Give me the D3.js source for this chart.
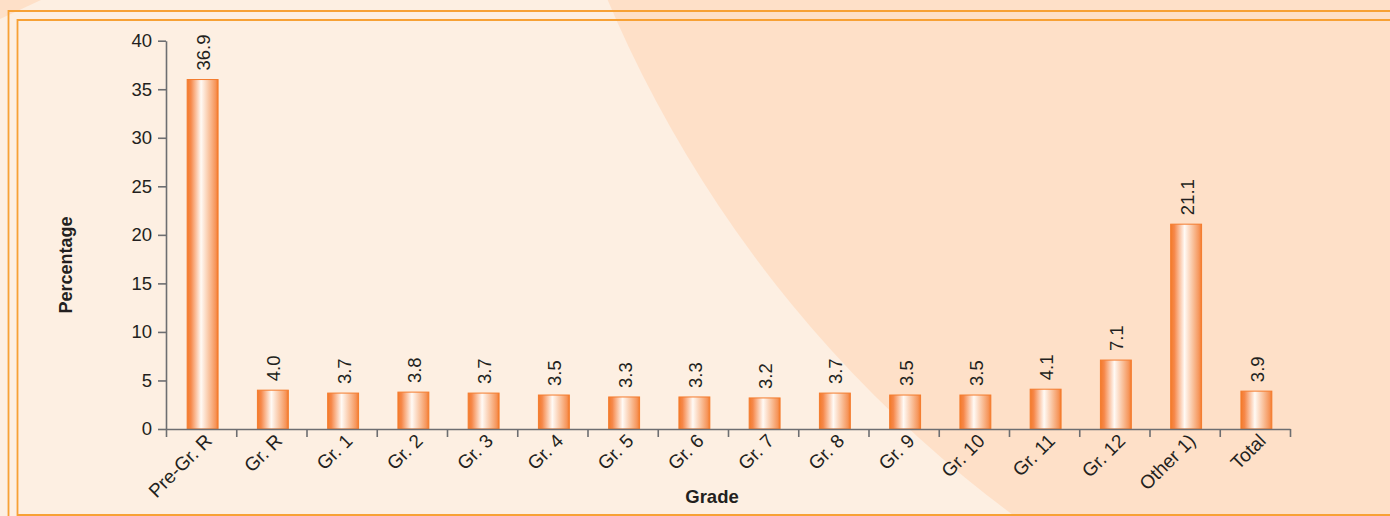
<!DOCTYPE html>
<html>
<head>
<meta charset="utf-8">
<script src="https://cdn.jsdelivr.net/npm/d3@7"></script>
<style>
html,body{margin:0;padding:0;background:#fdefe2;}
svg{display:block;}
text{font-family:"Liberation Sans",Arial,Helvetica,sans-serif;fill:#231f20;}
</style>
</head>
<body>
<svg id="chart" width="1390" height="516"></svg>
<script>
const categories = ["Pre-Gr. R","Gr. R","Gr. 1","Gr. 2","Gr. 3","Gr. 4","Gr. 5","Gr. 6","Gr. 7","Gr. 8","Gr. 9","Gr. 10","Gr. 11","Gr. 12","Other 1)","Total"];
const barHeights = [36.0, 4.0, 3.7, 3.8, 3.7, 3.5, 3.3, 3.3, 3.2, 3.7, 3.5, 3.5, 4.1, 7.1, 21.1, 3.9];
const valueLabels = ["36.9","4.0","3.7","3.8","3.7","3.5","3.3","3.3","3.2","3.7","3.5","3.5","4.1","7.1","21.1","3.9"];
const yTicks = [0,5,10,15,20,25,30,35,40];
const yTitle = "Percentage";
const xTitle = "Grade";

const svg = d3.select("#chart");
const W = 1390, H = 516;

// background
svg.append("rect").attr("width",W).attr("height",H).attr("fill","#fdefe2");
svg.append("circle").attr("cx",1755).attr("cy",-486).attr("r",1246).attr("fill","#fee0c8");
svg.append("path").attr("d","M0,0 L41,0 L0,19 Z").attr("fill","#fee0c8");

// borders
const bc = "#f7a135";
svg.append("path").attr("d",`M1400,11 L8.5,11 L8.5,530`).attr("fill","none").attr("stroke",bc).attr("stroke-width",1.8);
svg.append("path").attr("d",`M1400,20 L17.5,20 L17.5,515 L1400,515`).attr("fill","none").attr("stroke",bc).attr("stroke-width",1.8);

// gradient
const defs = svg.append("defs");
const g = defs.append("linearGradient").attr("id","barGrad").attr("x1","0").attr("x2","1").attr("y1","0").attr("y2","0");
[[0,"#f47a2a"],[0.12,"#f6884a"],[0.45,"#fffaf5"],[0.72,"#f9c19c"],[0.92,"#f6955a"],[1,"#f47a2a"]].forEach(([o,c])=>g.append("stop").attr("offset",o).attr("stop-color",c));

const x0 = 166, x1 = 1290, yTop = 40.7, yBot = 429;
const x = d3.scaleBand().domain(categories).range([x0,x1]).paddingInner(0.56).paddingOuter(0.28);
const y = d3.scaleLinear().domain([0,40]).range([yBot,yTop]);
const idx = d3.scaleLinear().domain([0,categories.length]).range([x0,x1]);
const off = 1.5;

// bars
svg.append("g").selectAll("rect").data(categories).join("rect")
  .attr("x",(d)=>x(d)+off)
  .attr("y",(d,i)=>y(barHeights[i]))
  .attr("width",x.bandwidth())
  .attr("height",(d,i)=>y(0)-y(barHeights[i]))
  .attr("fill","url(#barGrad)")
  .attr("stroke","#f47b2d").attr("stroke-width",1);

// value labels
svg.append("g").selectAll("text").data(categories).join("text")
  .attr("transform",(d,i)=>`translate(${x(d)+off+x.bandwidth()/2+7.5},${y(barHeights[i])-9}) rotate(-90)`)
  .attr("font-size",18.5)
  .text((d,i)=>valueLabels[i]);

// y axis
const yAxis = svg.append("g").attr("transform",`translate(${x0},0)`)
  .call(d3.axisLeft(y).tickValues(yTicks).tickSize(8).tickPadding(6).tickSizeOuter(0));
yAxis.selectAll("path,line").attr("stroke","#6d6e71").attr("stroke-width",1.6);
yAxis.selectAll("text").attr("font-size",18.5).attr("font-family","Liberation Sans, Arial, sans-serif").attr("fill","#231f20");

// x axis (ticks at band boundaries)
const xAxis = svg.append("g").attr("transform",`translate(0,${yBot})`)
  .call(d3.axisBottom(idx).tickValues(d3.range(categories.length+1)).tickSize(8).tickFormat("").tickSizeOuter(0));
xAxis.selectAll("path,line").attr("stroke","#6d6e71").attr("stroke-width",1.6);

// x labels
svg.append("g").selectAll("text").data(categories).join("text")
  .attr("transform",d=>`translate(${x(d)+x.bandwidth()/2+12},${yBot+13}) rotate(-45)`)
  .attr("text-anchor","end")
  .attr("font-size",19)
  .text(d=>d);

// titles
svg.append("text").attr("transform",`translate(72,265) rotate(-90)`).attr("text-anchor","middle")
  .attr("font-size",18).attr("font-weight","bold").text(yTitle);
svg.append("text").attr("x",712).attr("y",503).attr("text-anchor","middle")
  .attr("font-size",18.5).attr("font-weight","bold").text(xTitle);
</script>
</body>
</html>
